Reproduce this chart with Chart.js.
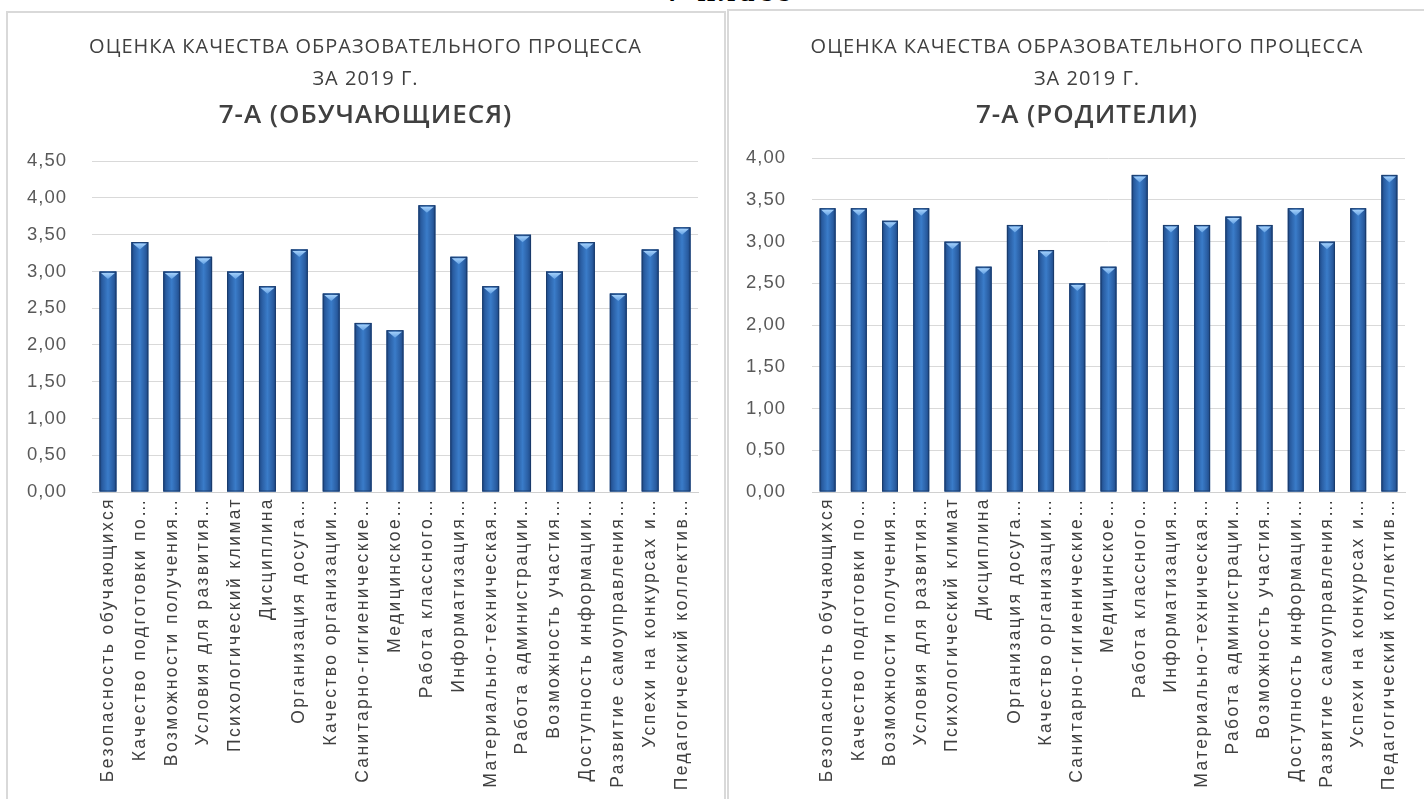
<!DOCTYPE html>
<html lang="ru">
<head>
<meta charset="utf-8">
<script src="https://cdn.jsdelivr.net/npm/chart.js@4.4.1/dist/chart.umd.min.js"></script>
<style>
  html, body { margin: 0; padding: 0; background: #ffffff; width: 1424px; height: 799px; overflow: hidden; position: relative; }
  .panel { position: absolute; border: 2px solid #d9d9d9; box-sizing: border-box; background: #fff; }
  #p1 { left: 6px; top: 11px; width: 720px; height: 820px; }
  #p2 { left: 727px; top: 9px; width: 740px; height: 820px; }
  canvas { position: absolute; }
  #c1 { left: 8px; top: 13px; }
  #c2 { left: 729px; top: 11px; }
  #top { position: absolute; left: 0; width: 1424px; top: -26px; text-align: center; font: bold 30px "Liberation Serif", serif; letter-spacing: 4px; color: #000; padding-left: 36px; box-sizing: border-box; }
</style>
</head>
<body>
<div id="top">7 класс</div>
<div class="panel" id="p1"></div>
<div class="panel" id="p2"></div>
<canvas id="c1" width="715" height="786"></canvas>
<canvas id="c2" width="716" height="788"></canvas>
<script>
const categories = [
  'Безопасность обучающихся',
  'Качество подготовки по…',
  'Возможности получения…',
  'Условия для развития…',
  'Психологический климат',
  'Дисциплина',
  'Организация досуга…',
  'Качество организации…',
  'Санитарно-гигиенические…',
  'Медицинское…',
  'Работа классного…',
  'Информатизация…',
  'Материально-техническая…',
  'Работа администрации…',
  'Возможность участия…',
  'Доступность информации…',
  'Развитие самоуправления…',
  'Успехи на конкурсах и…',
  'Педагогический коллектив…'
];
const studentValues = [3.0, 3.4, 3.0, 3.2, 3.0, 2.8, 3.3, 2.7, 2.3, 2.2, 3.9, 3.2, 2.8, 3.5, 3.0, 3.4, 2.7, 3.3, 3.6];
const parentValues  = [3.4, 3.4, 3.25, 3.4, 3.0, 2.7, 3.2, 2.9, 2.5, 2.7, 3.8, 3.2, 3.2, 3.3, 3.2, 3.4, 3.0, 3.4, 3.8];
const studentTicks = ['0,00', '0,50', '1,00', '1,50', '2,00', '2,50', '3,00', '3,50', '4,00', '4,50'];
const parentTicks  = ['0,00', '0,50', '1,00', '1,50', '2,00', '2,50', '3,00', '3,50', '4,00'];
const titleLines = ['ОЦЕНКА КАЧЕСТВА ОБРАЗОВАТЕЛЬНОГО ПРОЦЕССА', 'ЗА 2019 Г.'];
const studentSubtitle = '7-А (ОБУЧАЮЩИЕСЯ)';
const parentSubtitle = '7-А (РОДИТЕЛИ)';

const barStyle = {
  id: 'barStyle',
  beforeDraw(chart) { chart.ctx.letterSpacing = '1px'; },
  afterDatasetsDraw(chart) {
    const ctx = chart.ctx;
    const meta = chart.getDatasetMeta(0);
    ctx.save();
    meta.data.forEach(bar => {
      const p = bar.getProps(['x', 'y', 'base', 'width'], true);
      const l = p.x - p.width / 2, r = p.x + p.width / 2;
      const g = ctx.createLinearGradient(l, 0, r, 0);
      g.addColorStop(0, '#1c4682');
      g.addColorStop(0.18, '#2a5ea3');
      g.addColorStop(0.5, '#3a7cc9');
      g.addColorStop(0.82, '#2a5ea3');
      g.addColorStop(1, '#1c4682');
      ctx.fillStyle = g;
      ctx.fillRect(l, p.y, p.width, p.base - p.y);
      ctx.strokeStyle = 'rgba(25,55,100,0.8)';
      ctx.lineWidth = 1;
      ctx.strokeRect(l + 0.5, p.y + 0.5, p.width - 1, p.base - p.y - 1);
      const tg = ctx.createLinearGradient(0, p.y, 0, p.y + 8);
      tg.addColorStop(0, '#b5dcff');
      tg.addColorStop(1, '#5c9ce2');
      ctx.fillStyle = tg;
      ctx.beginPath();
      ctx.moveTo(l + 1.5, p.y + 1.5);
      ctx.lineTo(r - 1.5, p.y + 1.5);
      ctx.lineTo(p.x, p.y + 7.5);
      ctx.closePath();
      ctx.fill();
    });
    ctx.restore();
    ctx.letterSpacing = '2.4px';
  }
};

function makeChart(id, values, tickLabels, yMax, subtitle, cfg) {
  return new Chart(document.getElementById(id), {
    type: 'bar',
    data: {
      labels: categories,
      datasets: [{
        data: values,
        backgroundColor: '#2f66ad',
        borderWidth: 0,
        categoryPercentage: 1,
        barPercentage: cfg.barPct
      }]
    },
    options: {
      responsive: false,
      animation: false,
      events: [],
      layout: { padding: { left: cfg.pad, right: cfg.pad, top: 0, bottom: 0 } },
      plugins: {
        legend: { display: false },
        tooltip: { enabled: false },
        title: {
          display: true,
          text: titleLines,
          color: '#404040',
          font: { family: '"Open Sans", sans-serif', size: 20, weight: 'normal', lineHeight: 1.6 },
          padding: { top: cfg.titleTop, bottom: 0 }
        },
        subtitle: {
          display: true,
          text: subtitle,
          color: '#404040',
          font: { family: '"Open Sans", sans-serif', size: 26, weight: '600', lineHeight: 1.2 },
          padding: { top: 5, bottom: cfg.subBottom }
        }
      },
      scales: {
        x: {
          grid: { display: false },
          border: { display: true, color: '#d0d0d0', width: 1 },
          ticks: {
            z: 1,
            autoSkip: false,
            maxRotation: 90,
            minRotation: 90,
            padding: -3,
            color: '#404040',
            font: { family: '"Liberation Sans", Arial, sans-serif', size: 17.5 }
          },
          afterFit(s) { s.height = 307; }
        },
        y: {
          min: 0,
          max: yMax,
          grid: { color: '#d9d9d9', lineWidth: 1, drawTicks: false },
          border: { display: false },
          ticks: {
            mirror: true,
            stepSize: 0.5,
            padding: cfg.tickPad,
            color: '#595959',
            font: { family: '"Liberation Sans", Arial, sans-serif', size: 18.5 },
            callback: (v, i) => tickLabels[i]
          },
          afterFit(s) { s.width = cfg.yWidth; }
        }
      }
    },
    plugins: [barStyle]
  });
}

makeChart('c1', studentValues, studentTicks, 4.5, studentSubtitle,
  { barPct: 0.53, pad: 25, titleTop: 18, subBottom: 30, yWidth: 59, tickPad: -65 });
makeChart('c2', parentValues, parentTicks, 4.0, parentSubtitle,
  { barPct: 0.51, pad: 40, titleTop: 20, subBottom: 27, yWidth: 43, tickPad: -66 });
</script>
</body>
</html>
